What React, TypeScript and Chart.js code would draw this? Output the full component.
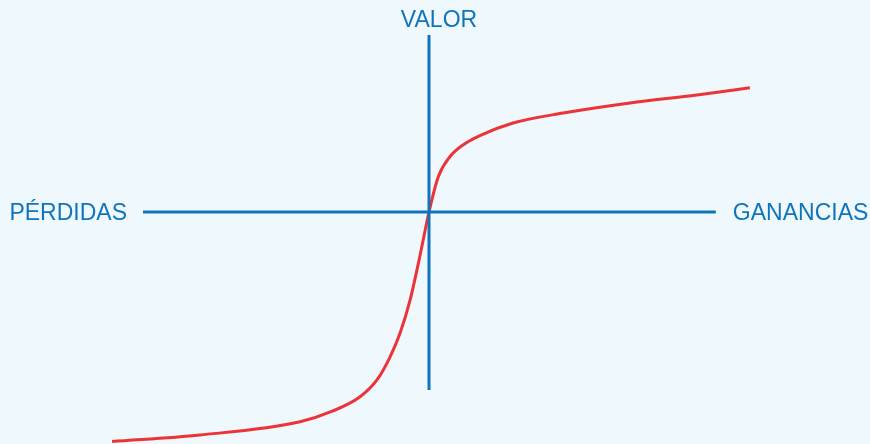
import React, { useEffect, useRef } from "react";
import { Chart, registerables } from "chart.js";

Chart.register(...registerables);

// Value-function curve (gains/losses in abstract units, value in abstract units)
const curveX = [-110.8, -80.1, -45.1, -33.6, -24.1, -18.2, -13.6, -10.1, -6.6, -3.1, 0, 3.25, 7.3, 11.9, 17.8, 29.4, 46.9, 70.3, 93.7, 112.2];
const curveY = [-129.7, -126.0, -118.5, -112.4, -104.4, -94.9, -81.8, -68.4, -49.7, -24.3, 0, 19.9, 31.2, 37.9, 43.2, 50.3, 55.9, 61.6, 66.1, 70.2];

// Axis extents
const xAxisRange = [-100, 100.3];
const yAxisRange = [-100.6, 100];

const labelLeft = "PÉRDIDAS";
const labelRight = "GANANCIAS";
const labelTop = "VALOR";

const BLUE = "#1174bb";
const RED = "#ec3338";
const BG = "#eef8fd";

export default function App() {
  const ref = useRef<HTMLCanvasElement | null>(null);

  useEffect(() => {
    if (!ref.current) return;
    const labelsPlugin = {
      id: "axisLabels",
      afterDatasetsDraw(chart: any) {
        const { ctx, scales } = chart;
        const xs = scales.x;
        const ys = scales.y;
        const ox = xs.getPixelForValue(0);
        const oy = ys.getPixelForValue(0);
        const left = xs.getPixelForValue(xAxisRange[0]);
        const right = xs.getPixelForValue(xAxisRange[1]);
        const top = ys.getPixelForValue(yAxisRange[1]);
        ctx.save();
        ctx.fillStyle = BLUE;
        ctx.font = '23px "Liberation Sans", Arial, sans-serif';
        ctx.textBaseline = "alphabetic";
        ctx.textAlign = "right";
        ctx.fillText(labelLeft, left - 16, oy + 8);
        ctx.textAlign = "left";
        ctx.fillText(labelRight, right + 17, oy + 8);
        ctx.textAlign = "center";
        ctx.fillText(labelTop, ox + 10, top - 8);
        ctx.restore();
      },
    };

    const chart = new Chart(ref.current, {
      type: "line",
      data: {
        datasets: [
          {
            data: [
              { x: xAxisRange[0], y: 0 },
              { x: xAxisRange[1], y: 0 },
            ],
            borderColor: BLUE,
            borderWidth: 3,
            pointRadius: 0,
            tension: 0,
          },
          {
            data: [
              { x: 0, y: yAxisRange[0] },
              { x: 0, y: yAxisRange[1] },
            ],
            borderColor: BLUE,
            borderWidth: 3,
            pointRadius: 0,
            tension: 0,
          },
          {
            data: curveX.map((x, i) => ({ x, y: curveY[i] })),
            borderColor: RED,
            borderWidth: 3,
            pointRadius: 0,
            cubicInterpolationMode: "monotone",
          },
        ],
      },
      options: {
        animation: false,
        responsive: false,
        maintainAspectRatio: false,
        layout: { padding: 0 },
        plugins: { legend: { display: false }, tooltip: { enabled: false } },
        scales: {
          x: { type: "linear", min: -150, max: 154.2, display: false },
          y: { type: "linear", min: -131.07, max: 119.77, display: false },
        },
      },
      plugins: [labelsPlugin],
    } as any);
    return () => chart.destroy();
  }, []);

  return (
    <div style={{ position: "fixed", left: 0, top: 0, width: 870, height: 444, background: BG }}>
      <canvas ref={ref} width={870} height={444} style={{ display: "block" }} />
    </div>
  );
}
